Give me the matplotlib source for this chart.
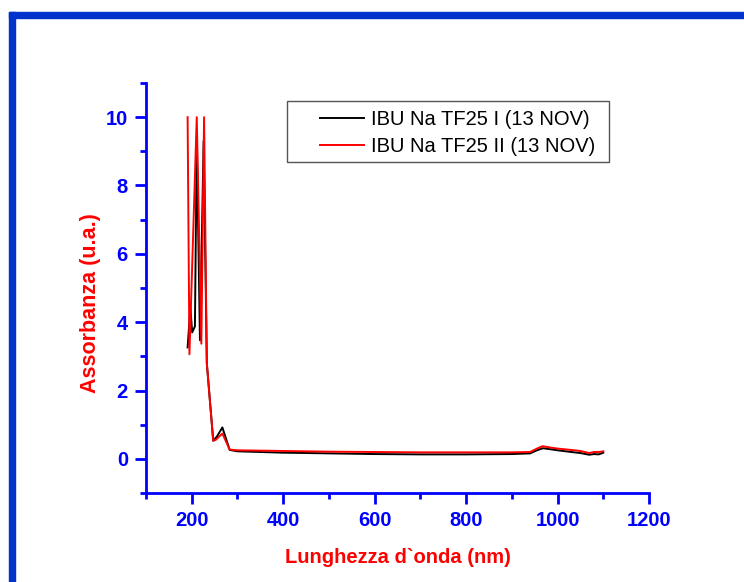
import matplotlib
matplotlib.use("Agg")
import matplotlib.pyplot as plt
from matplotlib.patches import Rectangle
from matplotlib.ticker import MultipleLocator

# spectra (nm, absorbance)
wl_1 = [191, 197, 201, 207, 211, 218, 226, 233, 247, 255, 267, 283, 300, 400, 500,
        600, 700, 800, 900, 940, 955, 968, 985, 1000, 1030, 1050, 1069, 1080, 1090, 1100]
abs_1 = [3.26, 4.43, 3.7, 3.88, 9.4, 3.47, 9.3, 2.8, 0.53, 0.65, 0.92, 0.26, 0.22, 0.18, 0.16,
         0.14, 0.13, 0.13, 0.14, 0.16, 0.25, 0.31, 0.28, 0.25, 0.2, 0.17, 0.12, 0.14, 0.13, 0.18]

wl_2 = [191, 195, 211, 221, 227, 233, 247, 252, 267, 283, 300, 400, 500, 600, 700,
        800, 900, 940, 955, 967, 985, 1000, 1030, 1050, 1069, 1080, 1090, 1100]
abs_2 = [10, 3.06, 10, 3.37, 10, 2.8, 0.53, 0.55, 0.74, 0.27, 0.25, 0.23, 0.21, 0.2, 0.19,
         0.19, 0.19, 0.2, 0.3, 0.37, 0.33, 0.3, 0.26, 0.23, 0.17, 0.2, 0.2, 0.22]

labels = ["IBU Na TF25 I (13 NOV)", "IBU Na TF25 II (13 NOV)"]
xticks = [200, 400, 600, 800, 1000, 1200]
yticks = [0, 2, 4, 6, 8, 10]

plt.rcParams["font.family"] = ["Liberation Sans", "DejaVu Sans"]
blue = "#0000ff"
red = "#ff0000"

fig = plt.figure(figsize=(7.44, 5.82), dpi=100)
ax = fig.add_axes([146 / 744, 1 - 493 / 582, 503 / 744, 410 / 582])

# blue frame around the page
fig.patches.append(Rectangle((9 / 744, 0), 6 / 744, 1 - 12 / 582, transform=fig.transFigure,
                             color="#0033cc", zorder=0))
fig.patches.append(Rectangle((9 / 744, 1 - 18 / 582), 1, 6 / 582, transform=fig.transFigure,
                             color="#0033cc", zorder=0))

l1, = ax.plot(wl_1, abs_1, color="black", lw=1.4)
l2, = ax.plot(wl_2, abs_2, color="red", lw=1.4)

ax.set_xlim(100, 1200)
ax.set_ylim(-1, 11)
ax.set_xticks(xticks)
ax.set_yticks(yticks)
ax.xaxis.set_minor_locator(MultipleLocator(100))
ax.yaxis.set_minor_locator(MultipleLocator(1))

for s in ["top", "right"]:
    ax.spines[s].set_visible(False)
for s in ["left", "bottom"]:
    ax.spines[s].set_color(blue)
    ax.spines[s].set_linewidth(2)

ax.tick_params(which="major", direction="out", length=8, width=2, color=blue,
               labelcolor=blue, labelsize=14.5, pad=5)
ax.tick_params(which="minor", direction="out", length=4, width=2, color=blue)
for t in ax.get_xticklabels() + ax.get_yticklabels():
    t.set_fontweight("bold")

ax.set_xlabel("Lunghezza d`onda (nm)", color=red, fontsize=14.5, fontweight="bold")
ax.set_ylabel("Assorbanza (u.a.)", color=red, fontsize=15.5, fontweight="bold")
ax.xaxis.set_label_coords(0.5, -0.134)
ax.yaxis.set_label_coords(-0.089, 0.463)

leg = ax.legend([l1, l2], labels, loc="upper right", bbox_to_anchor=(0.93, 0.979),
                frameon=False, fontsize=14.5, handlelength=2.2, handletextpad=0.35,
                labelspacing=0.43)
ax.add_patch(Rectangle((0.28, 0.807), 0.64, 0.149, transform=ax.transAxes, fill=False,
                       edgecolor="#555555", lw=1, zorder=5))

fig.savefig("out.png", dpi=100)
